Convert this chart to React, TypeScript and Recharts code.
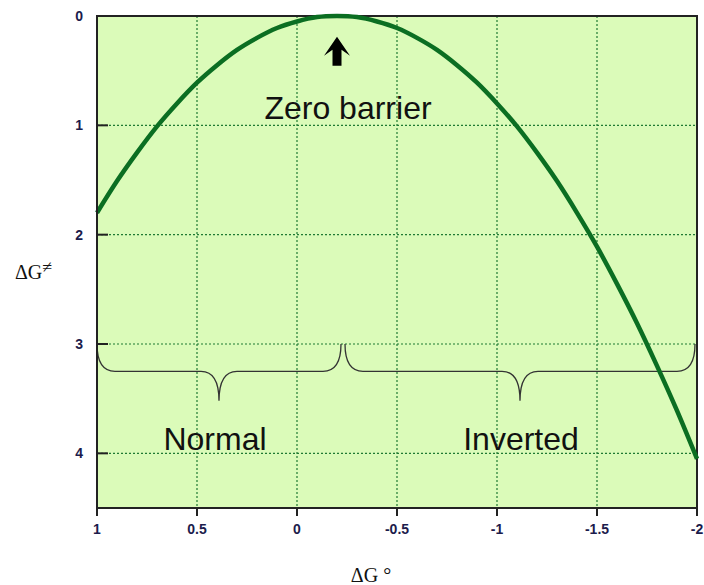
import { LineChart, Line, XAxis, YAxis, CartesianGrid, ReferenceArea, ReferenceDot } from 'recharts'

// driving force (ΔG°) and activation barrier (ΔG≠)
const dgStandard = [
  1, 0.9, 0.8, 0.7, 0.6, 0.5, 0.4, 0.3, 0.2, 0.1, 0, -0.1, -0.2, -0.3, -0.4, -0.5,
  -0.6, -0.7, -0.8, -0.9, -1, -1.1, -1.2, -1.3, -1.4, -1.5, -1.6, -1.7, -1.8, -1.9, -2,
]
const dgBarrier = [
  1.8, 1.51, 1.25, 1.01, 0.8, 0.61, 0.45, 0.31, 0.2, 0.11, 0.05, 0.01, 0, 0.01, 0.05, 0.11,
  0.2, 0.31, 0.45, 0.61, 0.8, 1.01, 1.25, 1.51, 1.8, 2.11, 2.45, 2.81, 3.2, 3.61, 4.05,
]
const xTicks = [1, 0.5, 0, -0.5, -1, -1.5, -2]
const yTicks = [0, 1, 2, 3, 4]

// regions marked by braces: [from, to] on ΔG°
const normalRange = [1, -0.22]
const invertedRange = [-0.24, -1.99]

const chartData = dgStandard.map((x, i) => ({ x, y: dgBarrier[i] }))

const tickFont = { fill: '#1c1c4c', fontSize: 14, fontWeight: 700, fontFamily: 'Liberation Sans, Arial, sans-serif' }
const bigText = { fontSize: 32, fontFamily: 'Liberation Sans, Arial, sans-serif', fill: '#111' }

function Brace(props: any) {
  const { x, y, width, height } = props
  const mid = y + height * 0.48
  const cx = x + width / 2
  const r = 18
  const d = [
    `M${x},${y}`,
    `Q${x},${mid} ${x + r},${mid}`,
    `L${cx - r},${mid}`,
    `Q${cx},${mid} ${cx},${y + height}`,
    `Q${cx},${mid} ${cx + r},${mid}`,
    `L${x + width - r},${mid}`,
    `Q${x + width},${mid} ${x + width},${y}`,
  ].join(' ')
  return <path d={d} fill="none" stroke="#333" strokeWidth={1.3} />
}

function Arrow(props: any) {
  const { cx, cy } = props
  const d = `M${cx},${cy - 23} L${cx + 13},${cy - 4} L${cx + 4.5},${cy - 10} L${cx + 4.5},${cy + 6} L${cx - 4.5},${cy + 6} L${cx - 4.5},${cy - 10} L${cx - 13},${cy - 4} Z`
  return <path d={d} fill="#000" />
}

// y ticks point into the plot, labels sit outside
function YTick(props: any) {
  const { x, y, payload } = props
  return (
    <g>
      <line x1={x + 14} x2={x + 25} y1={y} y2={y} stroke="#222" strokeWidth={2} />
      <text x={x} y={y + 5} textAnchor="end" {...tickFont}>{payload.value}</text>
    </g>
  )
}

function XTick(props: any) {
  const { x, y, payload } = props
  return (
    <text x={x} y={y + 13} textAnchor="middle" {...tickFont}>{payload.value}</text>
  )
}

const textAt = (value: string) => (props: any) => (
  <text x={props.cx} y={props.cy} textAnchor="middle" {...bigText}>{value}</text>
)

export default function App() {
  return (
    <div style={{ position: 'absolute', left: 0, top: 0, background: '#fff' }}>
      <LineChart width={704} height={585} data={chartData} margin={{ top: 16, right: 7, left: 37, bottom: 37 }}>
        <CartesianGrid fill="#dbfbb9" stroke="#1f7a33" strokeDasharray="2 2" strokeWidth={1.2} />
        <XAxis
          dataKey="x"
          type="number"
          domain={[-2, 1]}
          reversed
          ticks={xTicks}
          height={40}
          tick={<XTick />}
          tickSize={8}
          tickMargin={5}
          axisLine={{ stroke: '#222', strokeWidth: 2 }}
          tickLine={{ stroke: '#222', strokeWidth: 2 }}
          label={{
            content: () => (
              <text x={371} y={582} textAnchor="middle" fontFamily="Liberation Serif, Times New Roman, serif" fontSize={20} fill="#111">
                ΔG °
              </text>
            ),
          }}
        />
        <YAxis
          type="number"
          domain={[0, 4.5]}
          reversed
          ticks={yTicks}
          width={60}
          tick={<YTick />}
          tickSize={0}
          tickMargin={14}
          tickLine={false}
          axisLine={{ stroke: '#222', strokeWidth: 2 }}
          label={{
            content: () => (
              <text x={15} y={279} fontFamily="Liberation Serif, Times New Roman, serif" fontSize={20} fill="#111">
                ΔG<tspan dy={-6} fontSize={18}>≠</tspan>
              </text>
            ),
          }}
        />
        <ReferenceArea x1={1} x2={-2} y1={0} y2={4.5} fill="none" stroke="#222" strokeWidth={2} />
        <ReferenceArea x1={normalRange[0]} x2={normalRange[1]} y1={3} y2={3.52} shape={<Brace />} />
        <ReferenceArea x1={invertedRange[0]} x2={invertedRange[1]} y1={3} y2={3.52} shape={<Brace />} />
        <ReferenceDot x={-0.2} y={0.4} r={0} shape={<Arrow />} />
        <ReferenceDot x={-0.255} y={0.945} r={0} shape={textAt('Zero barrier')} />
        <ReferenceDot x={0.41} y={3.97} r={0} shape={textAt('Normal')} />
        <ReferenceDot x={-1.12} y={3.97} r={0} shape={textAt('Inverted')} />
        <Line
          type="natural"
          dataKey="y"
          stroke="#0b6e22"
          strokeWidth={4.5}
          dot={false}
          isAnimationActive={false}
        />
      </LineChart>
    </div>
  )
}
